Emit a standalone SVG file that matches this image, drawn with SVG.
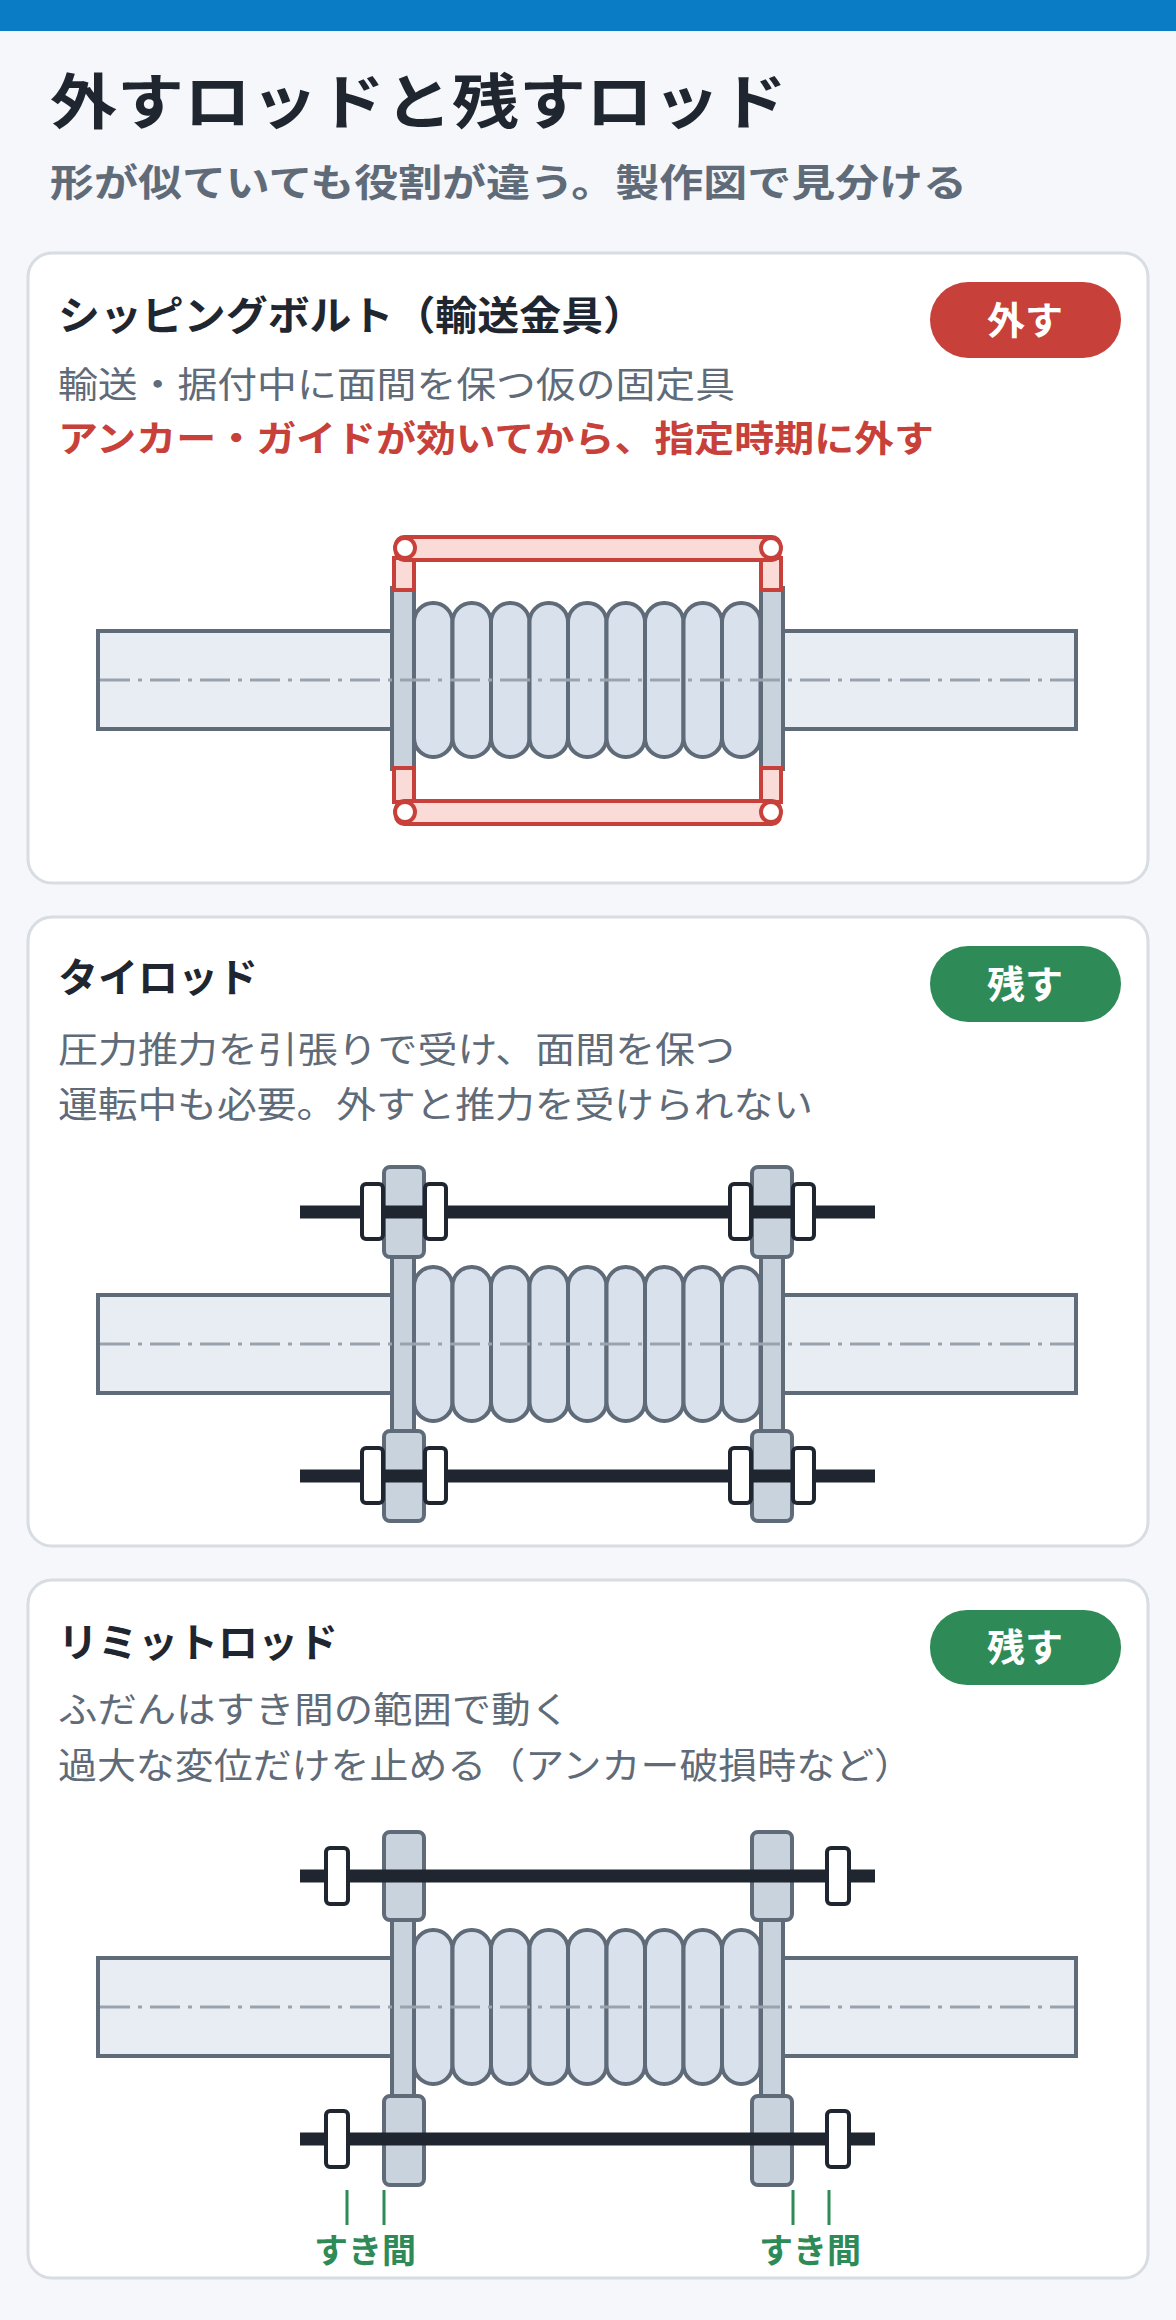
<svg xmlns="http://www.w3.org/2000/svg" xmlns:xlink="http://www.w3.org/1999/xlink" width="1176" height="2320" viewBox="0 0 1176 2320">
<style>
.jp{font-family:"Noto Sans CJK JP","Noto Sans",sans-serif}
.card{fill:#fff;stroke:#D8DDE3;stroke-width:3}
.h{font-size:40px;font-weight:700;fill:#1F2630}
.d{font-size:36px;fill:#5F6B78}
.badge{font-size:38px;font-weight:700;fill:#fff}
.pipe{fill:#E8ECF3;stroke:#5F6B78;stroke-width:4}
.cl{stroke:#9AA3AD;stroke-width:3;stroke-dasharray:30 8 4 8;fill:none}
.conv{fill:#D9E1EC;stroke:#5F6B78;stroke-width:4}
.fl{fill:#C9D3DE;stroke:#5F6B78;stroke-width:4}
.sb{fill:#FADBD8;stroke:#C8403A;stroke-width:4}
.rod{stroke:#1F2630;stroke-width:13}
.nut{fill:#fff;stroke:#1F2630;stroke-width:4}
.gap{stroke:#2E8B57;stroke-width:3}
</style>
<defs>
<g id="joint">
<rect class="pipe" x="98" y="631" width="296" height="98"/>
<rect class="pipe" x="782" y="631" width="294" height="98"/>
<rect class="conv" x="414" y="603" width="38.5" height="154" rx="19"/>
<rect class="conv" x="452.5" y="603" width="38.5" height="154" rx="19"/>
<rect class="conv" x="491" y="603" width="38.5" height="154" rx="19"/>
<rect class="conv" x="529.5" y="603" width="38.5" height="154" rx="19"/>
<rect class="conv" x="568" y="603" width="38.5" height="154" rx="19"/>
<rect class="conv" x="606.5" y="603" width="38.5" height="154" rx="19"/>
<rect class="conv" x="645" y="603" width="38.5" height="154" rx="19"/>
<rect class="conv" x="683.5" y="603" width="38.5" height="154" rx="19"/>
<rect class="conv" x="722" y="603" width="38.5" height="154" rx="19"/>
<rect class="fl" x="392" y="588" width="22" height="181"/>
<rect class="fl" x="761" y="588" width="22" height="181"/>
<line class="cl" x1="100" y1="680" x2="1074" y2="680"/>
</g>
</defs>
<rect width="1176" height="2320" fill="#F5F7FA"/>
<rect width="1176" height="31" fill="#0A7CC5"/>
<text class="jp" x="50" y="124" font-size="60" font-weight="700" fill="#1F2630" textLength="737" lengthAdjust="spacingAndGlyphs">外すロッドと残すロッド</text>
<text class="jp" x="50" y="196" font-size="38" font-weight="700" fill="#5F6B78" textLength="917" lengthAdjust="spacingAndGlyphs">形が似ていても役割が違う。製作図で見分ける</text>

<g id="card-shipping">
<rect class="card" x="28" y="253" width="1120" height="630" rx="24"/>
<text class="jp h" x="58" y="330" textLength="587" lengthAdjust="spacingAndGlyphs">シッピングボルト（輸送金具）</text>
<rect x="930" y="282" width="191" height="76" rx="38" fill="#C8403A"/>
<text class="jp badge" x="1025" y="334" text-anchor="middle">外す</text>
<text class="jp d" x="58" y="398" textLength="677" lengthAdjust="spacingAndGlyphs">輸送・据付中に面間を保つ仮の固定具</text>
<text class="jp" x="58" y="452" font-size="36" font-weight="700" fill="#C8403A" textLength="876" lengthAdjust="spacingAndGlyphs">アンカー・ガイドが効いてから、指定時期に外す</text>
<use xlink:href="#joint"/>
<rect class="sb" x="394" y="558" width="20" height="32"/>
<rect class="sb" x="761" y="558" width="20" height="32"/>
<rect class="sb" x="394" y="768" width="20" height="34"/>
<rect class="sb" x="761" y="768" width="20" height="34"/>
<rect class="sb" x="396" y="537" width="384" height="23" rx="8"/>
<rect class="sb" x="396" y="801" width="384" height="23" rx="8"/>
<circle cx="405" cy="548" r="10" fill="#fff" stroke="#C8403A" stroke-width="4"/>
<circle cx="771" cy="548" r="10" fill="#fff" stroke="#C8403A" stroke-width="4"/>
<circle cx="405" cy="812" r="10" fill="#fff" stroke="#C8403A" stroke-width="4"/>
<circle cx="771" cy="812" r="10" fill="#fff" stroke="#C8403A" stroke-width="4"/>
</g>

<g id="card-tierod">
<rect class="card" x="28" y="917" width="1120" height="629" rx="24"/>
<text class="jp h" x="58" y="992">タイロッド</text>
<rect x="930" y="946" width="191" height="76" rx="38" fill="#2E8B57"/>
<text class="jp badge" x="1025" y="998" text-anchor="middle">残す</text>
<text class="jp d" x="58" y="1063" textLength="677" lengthAdjust="spacingAndGlyphs">圧力推力を引張りで受け、面間を保つ</text>
<text class="jp d" x="58" y="1118" textLength="755" lengthAdjust="spacingAndGlyphs">運転中も必要。外すと推力を受けられない</text>
<g transform="translate(0,664)">
<use xlink:href="#joint"/>
<rect class="fl" x="384" y="503" width="40" height="90" rx="6"/>
<rect class="fl" x="752" y="503" width="40" height="90" rx="6"/>
<rect class="fl" x="384" y="767" width="40" height="90" rx="6"/>
<rect class="fl" x="752" y="767" width="40" height="90" rx="6"/>
<line class="rod" x1="300" y1="548" x2="875" y2="548"/>
<line class="rod" x1="300" y1="812" x2="875" y2="812"/>
<rect class="nut" x="362" y="520" width="21" height="55" rx="4"/>
<rect class="nut" x="425" y="520" width="21" height="55" rx="4"/>
<rect class="nut" x="730" y="520" width="21" height="55" rx="4"/>
<rect class="nut" x="793" y="520" width="21" height="55" rx="4"/>
<rect class="nut" x="362" y="784" width="21" height="55" rx="4"/>
<rect class="nut" x="425" y="784" width="21" height="55" rx="4"/>
<rect class="nut" x="730" y="784" width="21" height="55" rx="4"/>
<rect class="nut" x="793" y="784" width="21" height="55" rx="4"/>
</g>
</g>

<g id="card-limitrod">
<rect class="card" x="28" y="1580" width="1120" height="698" rx="24"/>
<text class="jp h" x="58" y="1657">リミットロッド</text>
<rect x="930" y="1610" width="191" height="75" rx="37" fill="#2E8B57"/>
<text class="jp badge" x="1025" y="1661" text-anchor="middle">残す</text>
<text class="jp d" x="58" y="1723" textLength="512" lengthAdjust="spacingAndGlyphs">ふだんはすき間の範囲で動く</text>
<text class="jp d" x="58" y="1779" textLength="855" lengthAdjust="spacingAndGlyphs">過大な変位だけを止める（アンカー破損時など）</text>
<g transform="translate(0,1327)">
<use xlink:href="#joint"/>
<rect class="fl" x="384" y="505" width="40" height="88" rx="6"/>
<rect class="fl" x="752" y="505" width="40" height="88" rx="6"/>
<rect class="fl" x="384" y="769" width="40" height="89" rx="6"/>
<rect class="fl" x="752" y="769" width="40" height="89" rx="6"/>
<line class="rod" x1="300" y1="549" x2="875" y2="549"/>
<line class="rod" x1="300" y1="812" x2="875" y2="812"/>
<rect class="nut" x="326" y="521" width="22" height="56" rx="4"/>
<rect class="nut" x="827" y="521" width="22" height="56" rx="4"/>
<rect class="nut" x="326" y="784" width="22" height="56" rx="4"/>
<rect class="nut" x="827" y="784" width="22" height="56" rx="4"/>
<line class="gap" x1="347" y1="863" x2="347" y2="898"/>
<line class="gap" x1="384" y1="863" x2="384" y2="898"/>
<line class="gap" x1="793" y1="863" x2="793" y2="898"/>
<line class="gap" x1="829" y1="863" x2="829" y2="898"/>
</g>
<text class="jp" x="365" y="2263" font-size="34" font-weight="700" fill="#2E8B57" text-anchor="middle">すき間</text>
<text class="jp" x="810" y="2263" font-size="34" font-weight="700" fill="#2E8B57" text-anchor="middle">すき間</text>
</g>
</svg>
